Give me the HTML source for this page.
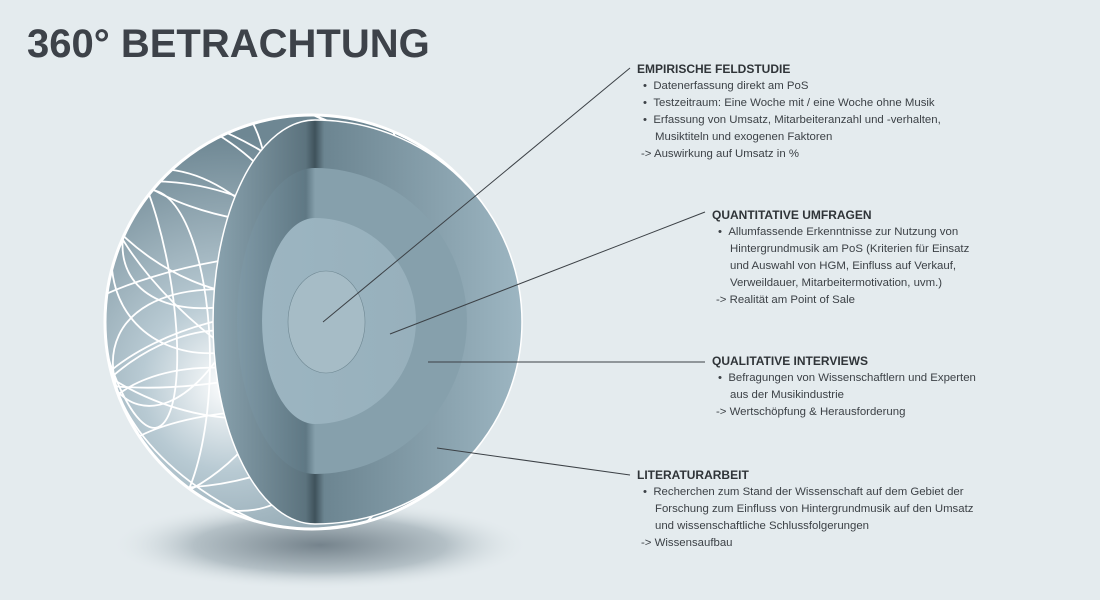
<!DOCTYPE html>
<html><head><meta charset="utf-8"><style>
html,body{margin:0;padding:0}
body{width:1100px;height:600px;background:#e4ebee;position:relative;overflow:hidden;font-family:"Liberation Sans",sans-serif;color:#3c4146}
h1{position:absolute;left:27px;top:22px;margin:0;font-size:40px;font-weight:bold;color:#3d4249}
.b{position:absolute;font-size:11.4px;line-height:17px}
.b .h{font-weight:bold;font-size:12px;color:#2f3438}
.b .i{padding-left:18px;text-indent:-12px}
.b .a{padding-left:4px}
svg{position:absolute;left:0;top:0}
</style></head><body>
<svg width="1100" height="600">
<defs>
<radialGradient id="sh" cx="0.5" cy="0.5" r="0.5"><stop offset="0" stop-color="#75838c"/><stop offset="0.6" stop-color="#b4c0c6"/><stop offset="1" stop-color="#e4ebee" stop-opacity="0"/></radialGradient>
<radialGradient id="bk" cx="0.3" cy="0.65" r="0.6"><stop offset="0" stop-color="#ffffff"/><stop offset="0.35" stop-color="#b8cad3"/><stop offset="1" stop-color="#6e8793"/></radialGradient>
<linearGradient id="f1" x1="0" x2="1"><stop offset="0" stop-color="#8aa3af"/><stop offset="0.3" stop-color="#5c737e"/><stop offset="0.33" stop-color="#3f525b"/><stop offset="0.36" stop-color="#6c8591"/><stop offset="1" stop-color="#9db6c2"/></linearGradient>
<linearGradient id="f2" x1="0" x2="1"><stop offset="0" stop-color="#7f99a6"/><stop offset="0.3" stop-color="#5f7884"/><stop offset="0.34" stop-color="#86a0ac"/><stop offset="1" stop-color="#86a0ac"/></linearGradient>
<linearGradient id="f3" x1="0" x2="1"><stop offset="0" stop-color="#9cb5c1"/><stop offset="1" stop-color="#97b0bc"/></linearGradient>
<clipPath id="cc"><circle cx="312" cy="322" r="206"/></clipPath>
</defs>
<ellipse cx="320" cy="545" rx="210" ry="45" fill="url(#sh)"/>
<circle cx="312" cy="322" r="207" fill="url(#bk)" stroke="#fff" stroke-width="3"/>
<g clip-path="url(#cc)" fill="none" stroke="#fff" stroke-width="1.8">
<ellipse cx="260" cy="200" rx="150" ry="90" transform="rotate(-30 260 200)"/>
<ellipse cx="200" cy="300" rx="170" ry="110" transform="rotate(20 200 300)"/>
<ellipse cx="230" cy="400" rx="160" ry="80" transform="rotate(-15 230 400)"/>
<ellipse cx="180" cy="250" rx="80" ry="160" transform="rotate(15 180 250)"/>
<ellipse cx="150" cy="360" rx="60" ry="170"/>
<ellipse cx="280" cy="470" rx="170" ry="60"/>
<ellipse cx="250" cy="160" rx="140" ry="60" transform="rotate(10 250 160)"/>
<ellipse cx="200" cy="340" rx="120" ry="180" transform="rotate(-25 200 340)"/>
<ellipse cx="300" cy="420" rx="200" ry="110" transform="rotate(25 300 420)"/>
<ellipse cx="240" cy="230" rx="110" ry="140" transform="rotate(50 240 230)"/>
<ellipse cx="190" cy="200" rx="130" ry="70" transform="rotate(35 190 200)"/>
<ellipse cx="170" cy="420" rx="120" ry="70" transform="rotate(-35 170 420)"/>
<ellipse cx="230" cy="320" rx="190" ry="60" transform="rotate(-10 230 320)"/>
<ellipse cx="130" cy="280" rx="40" ry="150" transform="rotate(-10 130 280)"/>
<ellipse cx="260" cy="260" rx="200" ry="90" transform="rotate(40 260 260)"/>
<ellipse cx="240" cy="460" rx="150" ry="90" transform="rotate(10 240 460)"/>
</g>
<path d="M315 120 A207 202 0 0 1 315 524 A102 202 0 0 1 315 120Z" fill="url(#f1)" stroke="#fff" stroke-width="1.5"/>
<path d="M315 168 A152 153 0 0 1 315 474 A78 153 0 0 1 315 168Z" fill="url(#f2)"/>
<path d="M315 218 A101 103 0 0 1 315 424 A53 103 0 0 1 315 218Z" fill="url(#f3)"/>
<path d="M326 271 A39 51 0 0 1 326 373 A38 51 0 0 1 326 271Z" fill="#a6bcc6" stroke="#6f8893" stroke-width="0.6"/>
<g stroke="#3c4146" stroke-width="1">
<line x1="323" y1="322" x2="630" y2="68"/>
<line x1="390" y1="334" x2="705" y2="212"/>
<line x1="428" y1="362" x2="705" y2="362"/>
<line x1="437" y1="448" x2="630" y2="475"/>
</g>
</svg>
<h1>360° BETRACHTUNG</h1>
<div class="b" style="left:637px;top:61px">
<div class="h">EMPIRISCHE FELDSTUDIE</div>
<div class="i">•&nbsp;&nbsp;Datenerfassung direkt am PoS</div>
<div class="i">•&nbsp;&nbsp;Testzeitraum: Eine Woche mit / eine Woche ohne Musik</div>
<div class="i">•&nbsp;&nbsp;Erfassung von Umsatz, Mitarbeiteranzahl und -verhalten,<br>Musiktiteln und exogenen Faktoren</div>
<div class="a">-&gt; Auswirkung auf Umsatz in %</div>
</div>
<div class="b" style="left:712px;top:207px">
<div class="h">QUANTITATIVE UMFRAGEN</div>
<div class="i">•&nbsp;&nbsp;Allumfassende Erkenntnisse zur Nutzung von<br>Hintergrundmusik am PoS (Kriterien für Einsatz<br>und Auswahl von HGM, Einfluss auf Verkauf,<br>Verweildauer, Mitarbeitermotivation, uvm.)</div>
<div class="a">-&gt; Realität am Point of Sale</div>
</div>
<div class="b" style="left:712px;top:353px">
<div class="h">QUALITATIVE INTERVIEWS</div>
<div class="i">•&nbsp;&nbsp;Befragungen von Wissenschaftlern und Experten<br>aus der Musikindustrie</div>
<div class="a">-&gt; Wertschöpfung &amp; Herausforderung</div>
</div>
<div class="b" style="left:637px;top:467px">
<div class="h">LITERATURARBEIT</div>
<div class="i">•&nbsp;&nbsp;Recherchen zum Stand der Wissenschaft auf dem Gebiet der<br>Forschung zum Einfluss von Hintergrundmusik auf den Umsatz<br>und wissenschaftliche Schlussfolgerungen</div>
<div class="a">-&gt; Wissensaufbau</div>
</div>
</body></html>
